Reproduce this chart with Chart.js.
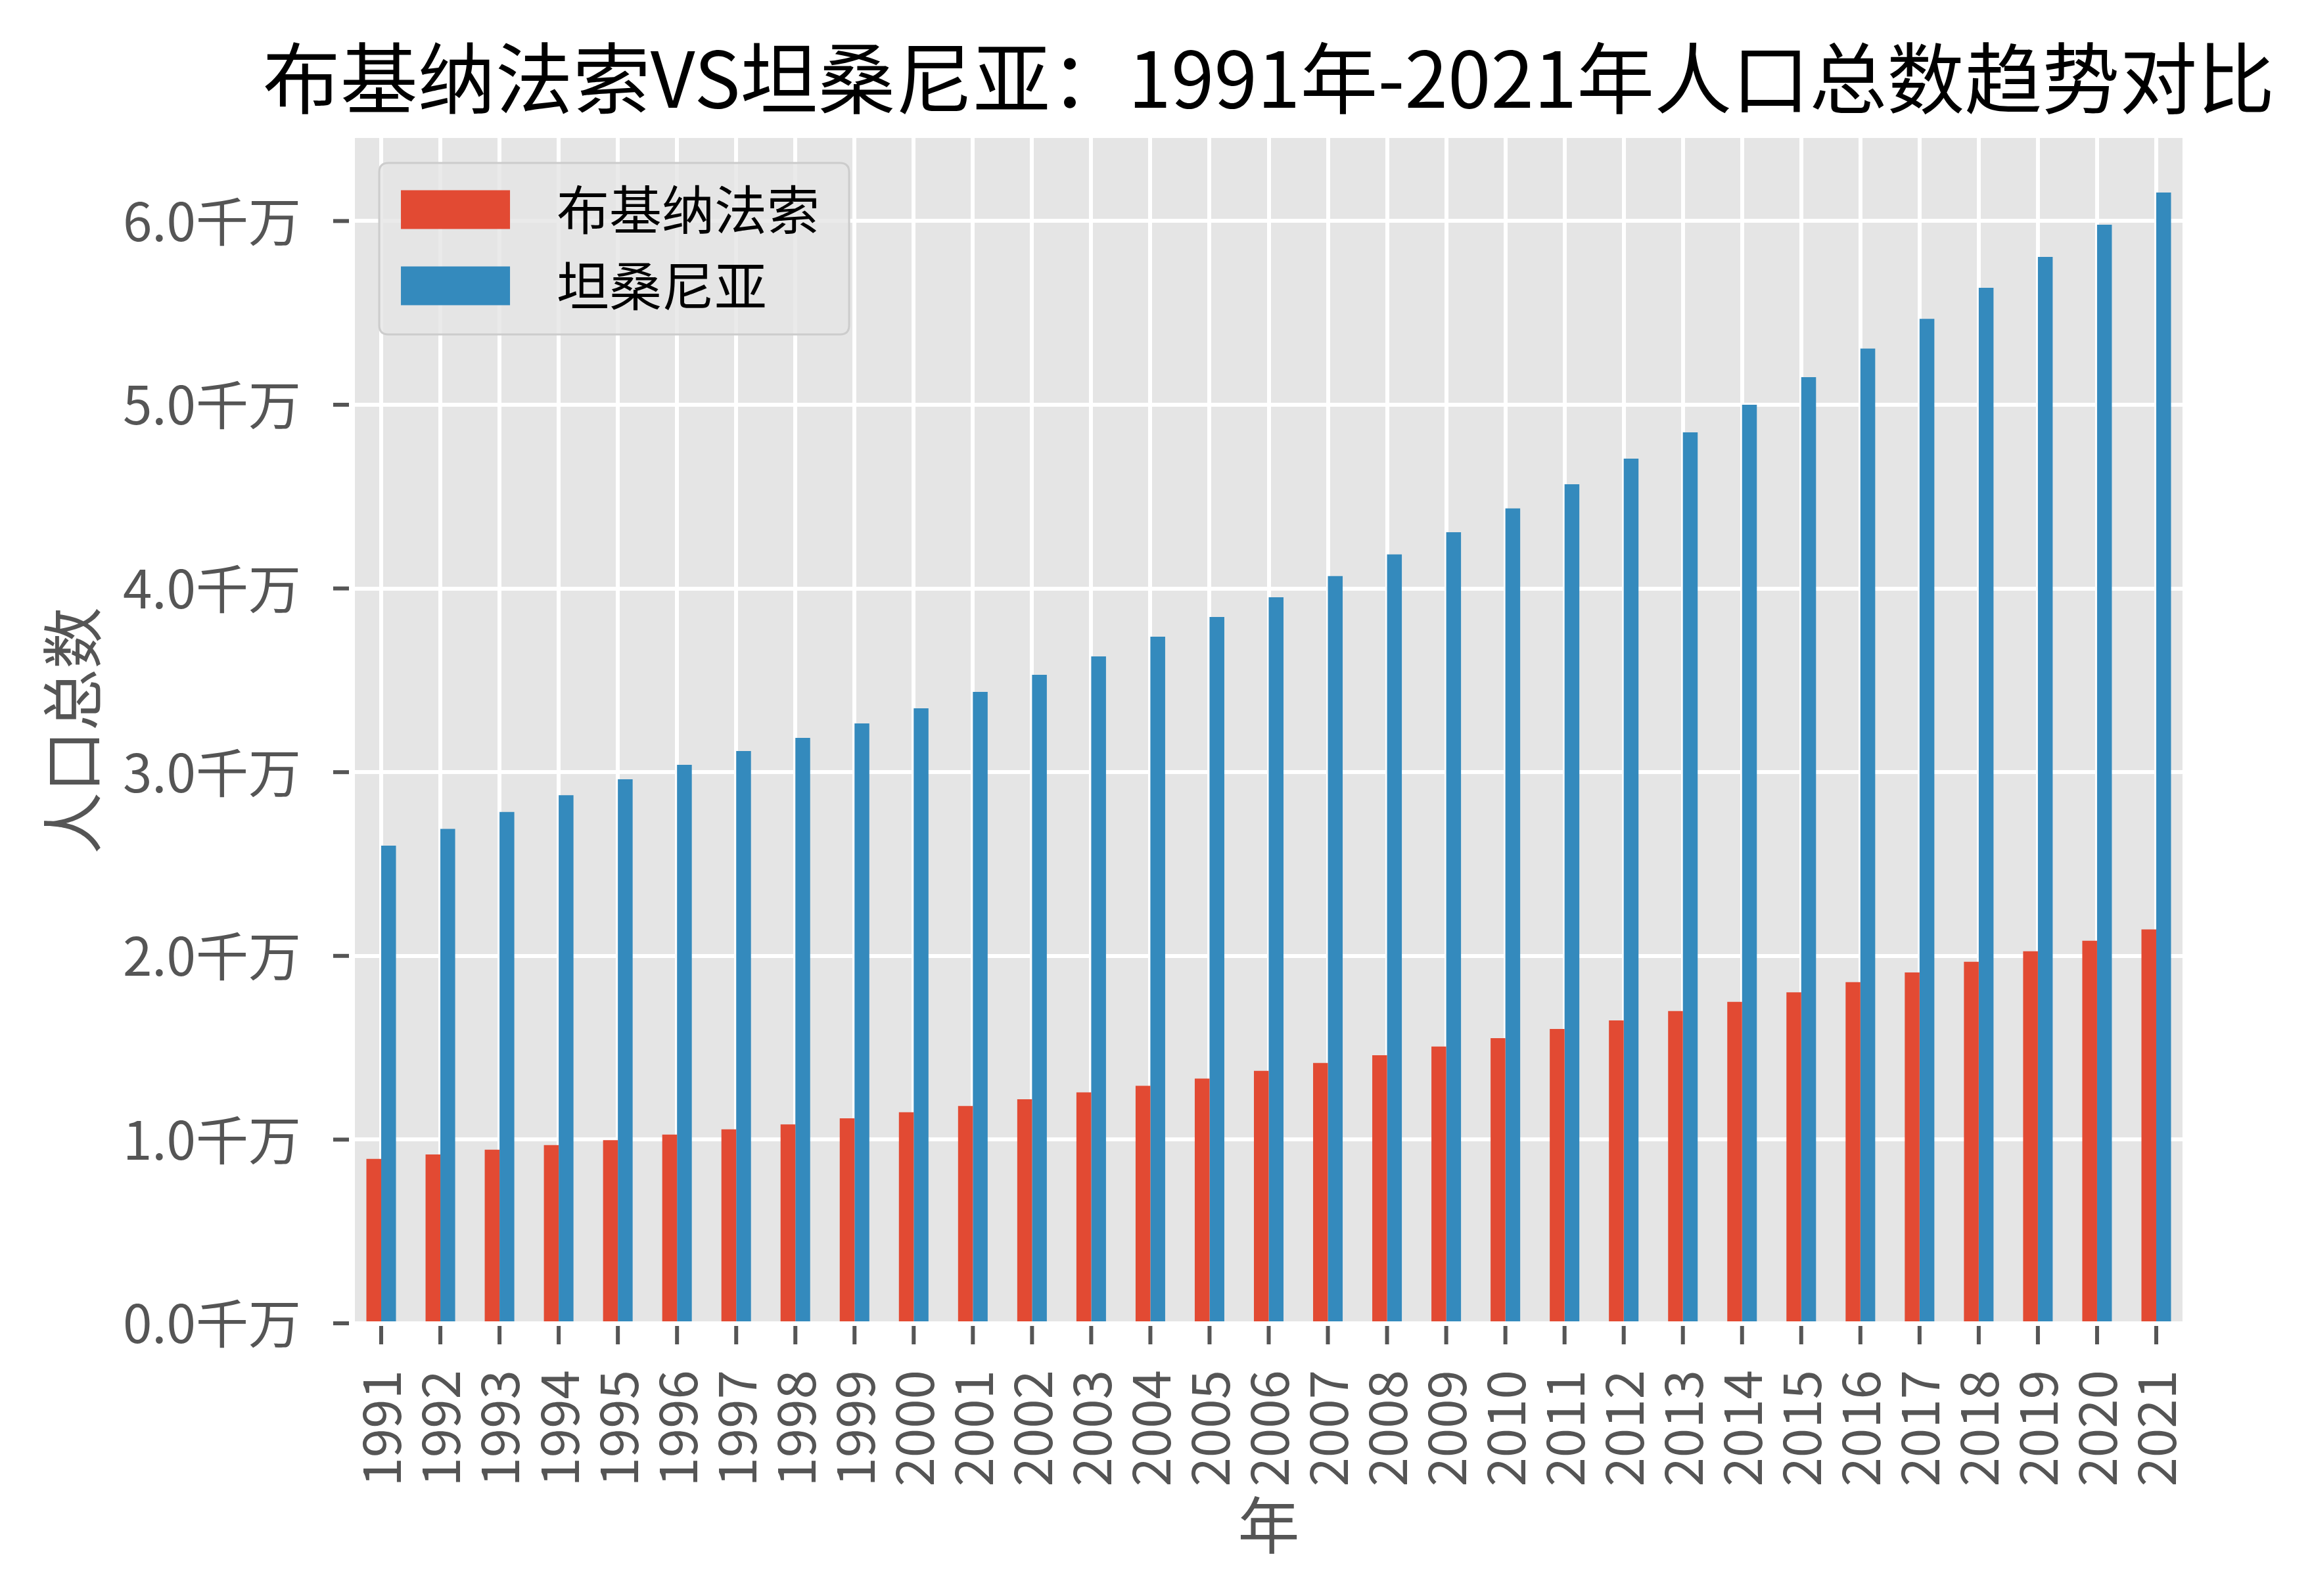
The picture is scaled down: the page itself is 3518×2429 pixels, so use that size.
<!DOCTYPE html>
<html>
<head>
<meta charset="utf-8">
<script src="https://cdn.jsdelivr.net/npm/chart.js@4.4.0/dist/chart.umd.min.js"></script>
<style>
html,body{margin:0;padding:0;background:#ffffff;}
canvas{display:block;}
</style>
</head>
<body>
<canvas id="c" width="3518" height="2429"></canvas>
<script>
// ---- data ----
const years = ['1991','1992','1993','1994','1995','1996','1997','1998','1999','2000',
  '2001','2002','2003','2004','2005','2006','2007','2008','2009','2010',
  '2011','2012','2013','2014','2015','2016','2017','2018','2019','2020','2021'];
const seriesNames = ['布基纳法索', '坦桑尼亚'];
// population (persons)
const burkinaFaso = [8950000, 9190000, 9450000, 9700000, 9970000, 10270000, 10560000, 10830000, 11160000, 11490000,
  11830000, 12200000, 12570000, 12930000, 13320000, 13740000, 14170000, 14590000, 15070000, 15520000,
  16020000, 16490000, 17000000, 17500000, 18020000, 18570000, 19100000, 19680000, 20250000, 20820000, 21440000];
const tanzania = [26000000, 26910000, 27830000, 28750000, 29610000, 30400000, 31150000, 31870000, 32650000, 33480000,
  34370000, 35300000, 36300000, 37370000, 38450000, 39520000, 40670000, 41850000, 43060000, 44360000,
  45670000, 47070000, 48500000, 50000000, 51500000, 53060000, 54680000, 56370000, 58050000, 59800000, 61550000];
const yTickValues = [0, 10000000, 20000000, 30000000, 40000000, 50000000, 60000000];
const titleText = '布基纳法索VS坦桑尼亚：1991年-2021年人口总数趋势对比';
const xAxisTitle = '年';
const yAxisTitle = '人口总数';
const yUnit = 10000000;      // 千万
const yUnitLabel = '千万';
const yAxisMax = 64520000;

// ---- style ----
const FONT = "'Noto Sans CJK SC', 'DejaVu Sans', sans-serif";
const RED = '#E24A33', BLUE = '#348ABD';
const TICK_GRAY = '#555555';
const PLOT_BG = '#E5E5E5';
const EDGE_MARGIN = 0.444; // gray panel beyond outer category centres (in category widths)

Chart.defaults.font.family = FONT;

function panelBounds(chart) {
  const x = chart.scales.x;
  const n = x.ticks.length;
  const p0 = x.getPixelForTick(0), pn = x.getPixelForTick(n - 1);
  const step = (pn - p0) / (n - 1);
  return {left: p0 - EDGE_MARGIN * step, right: pn + EDGE_MARGIN * step};
}

const decor = {
  id: 'decor',
  beforeDraw(chart) {
    const {ctx, chartArea} = chart;
    const b = panelBounds(chart);
    ctx.save();
    ctx.fillStyle = PLOT_BG;
    ctx.fillRect(b.left, chartArea.top, b.right - b.left, chartArea.bottom - chartArea.top);
    ctx.restore();
  },
  afterDraw(chart) {
    const {ctx, chartArea, scales: {x, y}} = chart;
    const b = panelBounds(chart);
    ctx.save();
    // tick marks
    ctx.strokeStyle = TICK_GRAY;
    ctx.lineWidth = 6;
    x.ticks.forEach((t, i) => {
      const px = x.getPixelForTick(i);
      ctx.beginPath();
      ctx.moveTo(px, chartArea.bottom + 4);
      ctx.lineTo(px, chartArea.bottom + 32);
      ctx.stroke();
    });
    y.ticks.forEach((t, i) => {
      const py = y.getPixelForTick(i);
      ctx.beginPath();
      ctx.moveTo(chartArea.left - 28, py);
      ctx.lineTo(chartArea.left - 4, py);
      ctx.stroke();
    });
    // title
    ctx.fillStyle = '#000000';
    ctx.font = '118px ' + FONT;
    ctx.textAlign = 'center';
    ctx.textBaseline = 'middle';
    ctx.fillText(titleText, (b.left + b.right) / 2, 119);
    // legend
    const bx = b.left + 37, by = chartArea.top + 38, bw = 715, bh = 261, r = 14;
    ctx.beginPath();
    ctx.moveTo(bx + r, by);
    ctx.lineTo(bx + bw - r, by);
    ctx.quadraticCurveTo(bx + bw, by, bx + bw, by + r);
    ctx.lineTo(bx + bw, by + bh - r);
    ctx.quadraticCurveTo(bx + bw, by + bh, bx + bw - r, by + bh);
    ctx.lineTo(bx + r, by + bh);
    ctx.quadraticCurveTo(bx, by + bh, bx, by + bh - r);
    ctx.lineTo(bx, by + r);
    ctx.quadraticCurveTo(bx, by, bx + r, by);
    ctx.closePath();
    ctx.fillStyle = 'rgba(229,229,229,0.8)';
    ctx.fill();
    ctx.strokeStyle = '#CCCCCC';
    ctx.lineWidth = 3;
    ctx.stroke();
    ctx.font = '80px ' + FONT;
    ctx.textAlign = 'left';
    ctx.textBaseline = 'middle';
    chart.data.datasets.forEach((ds, i) => {
      const cy = by + 71 + i * 116;
      ctx.fillStyle = ds.backgroundColor;
      ctx.fillRect(bx + 33, cy - 29.5, 166, 59);
      ctx.fillStyle = '#000000';
      ctx.fillText(ds.label, bx + 270, cy);
    });
    ctx.restore();
  }
};

new Chart(document.getElementById('c'), {
  type: 'bar',
  data: {
    labels: years,
    datasets: [
      {label: seriesNames[0], data: burkinaFaso, backgroundColor: RED, categoryPercentage: 0.5, barPercentage: 1.0, borderWidth: 0},
      {label: seriesNames[1], data: tanzania, backgroundColor: BLUE, categoryPercentage: 0.5, barPercentage: 1.0, borderWidth: 0}
    ]
  },
  options: {
    responsive: false,
    animation: false,
    devicePixelRatio: 1,
    layout: {padding: {left: 0, right: 192, top: 210, bottom: 0}},
    plugins: {
      legend: {display: false},
      title: {display: false},
      tooltip: {enabled: false}
    },
    scales: {
      x: {
        offset: true,
        grid: {display: true, color: '#FFFFFF', lineWidth: 6, offset: false, drawTicks: false},
        border: {display: false},
        ticks: {
          autoSkip: false, minRotation: 90, maxRotation: 90,
          color: TICK_GRAY, font: {size: 80, family: FONT}, padding: 71
        },
        title: {display: true, text: xAxisTitle, color: TICK_GRAY, font: {size: 94, family: FONT}, padding: {top: 0, bottom: 51}},
        afterFit(scale) { scale.height = 415; }
      },
      y: {
        min: 0,
        max: yAxisMax,
        grid: {display: true, color: '#FFFFFF', lineWidth: 6, drawTicks: false},
        border: {display: false},
        ticks: {
          color: TICK_GRAY,
          font: {size: 80, family: FONT},
          padding: 77,
          callback: (v) => (v / yUnit).toFixed(1) + yUnitLabel
        },
        afterBuildTicks(scale) {
          scale.ticks = yTickValues.map(v => ({value: v}));
        },
        title: {display: true, text: yAxisTitle, color: TICK_GRAY, font: {size: 94, family: FONT}, padding: {top: 54, bottom: 0}},
        afterFit(scale) { scale.width = 535; }
      }
    }
  },
  plugins: [decor]
});
</script>
</body>
</html>
